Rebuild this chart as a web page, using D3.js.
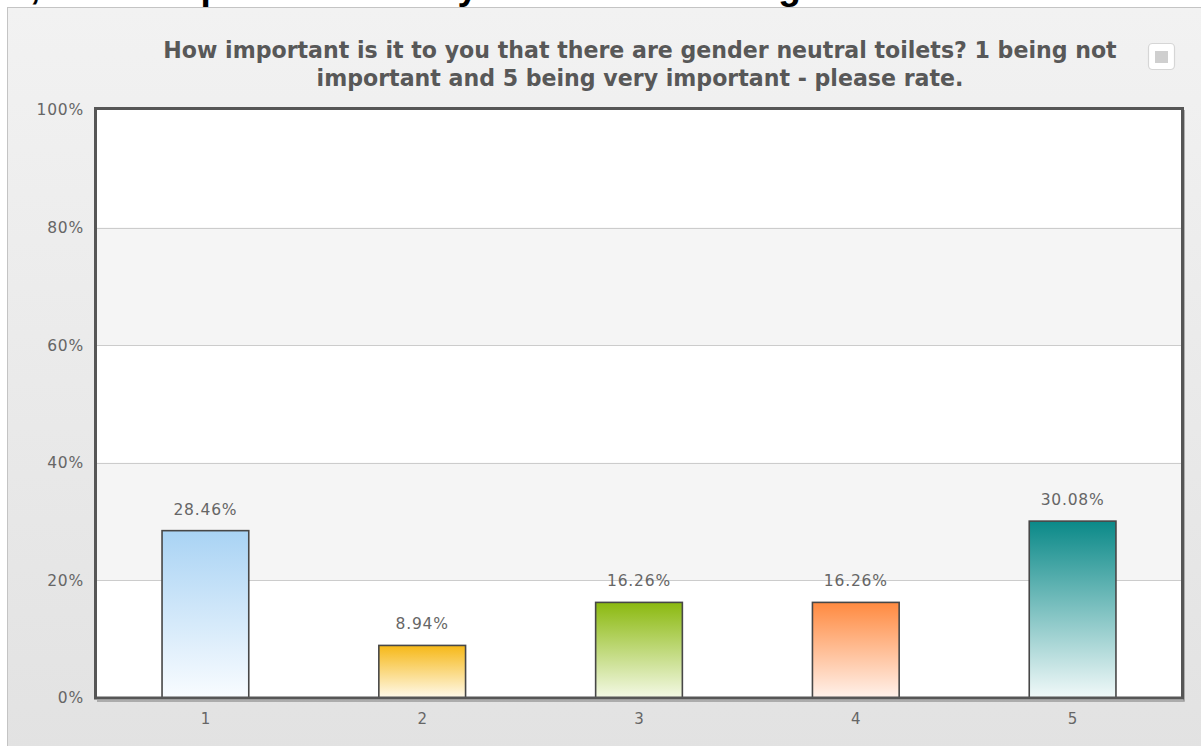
<!DOCTYPE html>
<html>
<head>
<meta charset="utf-8">
<script src="https://cdn.jsdelivr.net/npm/d3@7"></script>
<style>
  html, body { margin: 0; padding: 0; background: #ffffff; overflow: hidden; }
  svg { display: block; }
</style>
</head>
<body>
<svg id="chart" width="1201" height="746"></svg>
<script>
// Survey answers, rating 1 (not important) to 5 (very important)
const categories = ["1", "2", "3", "4", "5"];
const percentages = [28.46, 8.94, 16.26, 16.26, 30.08];
const valueLabels = ["28.46%", "8.94%", "16.26%", "16.26%", "30.08%"];
const yTicks = [0, 20, 40, 60, 80, 100];
const yTickLabels = ["0%", "20%", "40%", "60%", "80%", "100%"];
const barTopColors = ["#a9d3f4", "#f6b817", "#8bb90f", "#ff8a40", "#0a8988"];
const barBottomColors = ["#f9fcff", "#fffaec", "#f4f9e6", "#fff2ec", "#f1f9f9"];
const titleLines = [
  "How important is it to you that there are gender neutral toilets? 1 being not",
  "important and 5 being very important - please rate."
];
const headingText = "How important is it to you that there are gender neutral toilets?";

const svg = d3.select("#chart");
const W = 1201, H = 746;
const plot = { left: 97, right: 1181, top: 110, bottom: 698 };

const defs = svg.append("defs");

// Panel background gradient
const bg = defs.append("linearGradient").attr("id", "panelBg")
  .attr("x1", 0).attr("y1", 0).attr("x2", 0).attr("y2", 1);
bg.append("stop").attr("offset", "0%").attr("stop-color", "#f2f2f2");
bg.append("stop").attr("offset", "100%").attr("stop-color", "#e2e2e2");

// Per-bar vertical gradients
categories.forEach((c, i) => {
  const g = defs.append("linearGradient").attr("id", "barGrad" + i)
    .attr("x1", 0).attr("y1", 0).attr("x2", 0).attr("y2", 1);
  g.append("stop").attr("offset", "0%").attr("stop-color", barTopColors[i]);
  g.append("stop").attr("offset", "100%").attr("stop-color", barBottomColors[i]);
});

// Page heading line, clipped by the top edge of the window
svg.append("text")
  .attr("x", 30).attr("y", -1)
  .attr("font-family", "Liberation Sans, Arial, sans-serif")
  .attr("font-weight", "bold").attr("font-size", 37)
  .attr("fill", "#000").text(",");
svg.append("text")
  .attr("x", 69).attr("y", -1)
  .attr("font-family", "Liberation Sans, Arial, sans-serif")
  .attr("font-weight", "bold").attr("font-size", 37)
  .attr("fill", "#000").text(headingText);

// Chart panel
svg.append("rect")
  .attr("x", 7.5).attr("y", 7.5)
  .attr("width", W).attr("height", H)
  .attr("fill", "url(#panelBg)")
  .attr("stroke", "#c4c4c4").attr("stroke-width", 1);

// Scales
const x = d3.scaleBand().domain(categories)
  .range([plot.left, plot.right])
  .paddingInner(0.6).paddingOuter(0.3);
const y = d3.scaleLinear().domain([0, 100]).range([plot.bottom, plot.top]);

// Alternating bands
const bandG = svg.append("g");
for (let i = 0; i < yTicks.length - 1; i++) {
  bandG.append("rect")
    .attr("x", plot.left).attr("width", plot.right - plot.left)
    .attr("y", y(yTicks[i + 1])).attr("height", y(yTicks[i]) - y(yTicks[i + 1]))
    .attr("fill", i % 2 === 0 ? "#ffffff" : "#f5f5f5");
}

// Gridlines
svg.append("g").selectAll("line")
  .data(yTicks.slice(1, -1)).join("line")
  .attr("x1", plot.left).attr("x2", plot.right)
  .attr("y1", d => Math.round(y(d)) + 0.5).attr("y2", d => Math.round(y(d)) + 0.5)
  .attr("stroke", "#cccccc").attr("stroke-width", 1);

// Bars
svg.append("g").selectAll("rect")
  .data(percentages).join("rect")
  .attr("x", (d, i) => x(categories[i]))
  .attr("width", x.bandwidth())
  .attr("y", d => y(d))
  .attr("height", d => y(0) - y(d))
  .attr("fill", (d, i) => `url(#barGrad${i})`)
  .attr("stroke", "#474747").attr("stroke-width", 1.6);

// Value labels
svg.append("g").selectAll("text")
  .data(percentages).join("text")
  .attr("x", (d, i) => x(categories[i]) + x.bandwidth() / 2)
  .attr("y", d => y(d) - 16)
  .attr("text-anchor", "middle")
  .attr("font-family", "DejaVu Sans, Verdana, sans-serif")
  .attr("font-size", 15.5).attr("letter-spacing", 0.8)
  .attr("fill", "#666666")
  .text((d, i) => valueLabels[i]);

// Plot frame (with a soft edge to the right and bottom)
svg.append("path")
  .attr("d", `M${plot.right + 3},${plot.top} V${plot.bottom + 3} H${plot.left}`)
  .attr("fill", "none").attr("stroke", "#9a9a9a").attr("stroke-width", 1.5);
svg.append("rect")
  .attr("x", plot.left - 1.5).attr("y", plot.top - 1.5)
  .attr("width", plot.right - plot.left + 3).attr("height", plot.bottom - plot.top + 1.5)
  .attr("fill", "none").attr("stroke", "#565656").attr("stroke-width", 3);

// Y axis
const yAxis = d3.axisLeft(y).tickValues(yTicks)
  .tickFormat((d, i) => yTickLabels[i]).tickSize(0).tickPadding(11);
const yg = svg.append("g").attr("transform", `translate(${plot.left - 2},0)`).call(yAxis);
yg.select(".domain").remove();
yg.selectAll("text")
  .attr("font-family", "DejaVu Sans, Verdana, sans-serif")
  .attr("font-size", 15.5).attr("letter-spacing", 0.8)
  .attr("fill", "#666666");

// X axis
const xAxis = d3.axisBottom(x).tickSize(0).tickPadding(13);
const xg = svg.append("g").attr("transform", `translate(0,${plot.bottom + 2})`).call(xAxis);
xg.select(".domain").remove();
xg.selectAll("text")
  .attr("font-family", "DejaVu Sans, Verdana, sans-serif")
  .attr("font-size", 15)
  .attr("fill", "#666666");

// Title, sized so the first line spans its measured width
const titleG = svg.append("g");
const tl = titleG.selectAll("text").data(titleLines).join("text")
  .attr("x", 640)
  .attr("y", (d, i) => 58 + i * 28)
  .attr("text-anchor", "middle")
  .attr("font-family", "DejaVu Sans, Verdana, sans-serif")
  .attr("font-weight", "bold")
  .attr("font-size", 18)
  .attr("fill", "#585858")
  .text(d => d);
const w0 = tl.nodes()[0].getComputedTextLength();
tl.attr("font-size", 18 * 954 / w0);

// Export menu button
svg.append("rect")
  .attr("x", 1148.5).attr("y", 43.5).attr("width", 26).attr("height", 26).attr("rx", 4)
  .attr("fill", "#ffffff").attr("stroke", "#d6d6d6").attr("stroke-width", 1.2);
svg.append("rect")
  .attr("x", 1155).attr("y", 51).attr("width", 13).attr("height", 12)
  .attr("fill", "#cfcfcf");
</script>
</body>
</html>
